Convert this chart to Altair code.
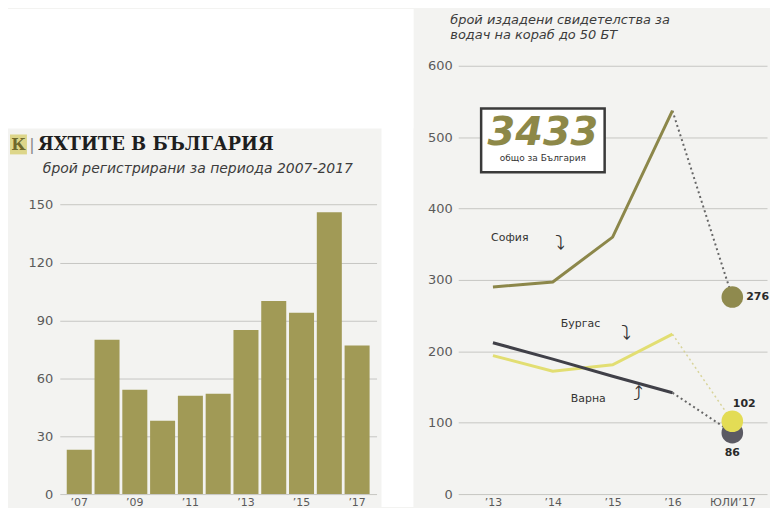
import altair as alt
import pandas as pd

# ---------------- data ----------------
# left panel: yachts registered per year
yacht_years = ["’07", "’08", "’09", "’10", "’11", "’12", "’13", "’14", "’15", "’16", "’17"]
yacht_counts = [23, 80, 54, 38, 51, 52, 85, 100, 94, 146, 77]
yacht_label_years = ["’07", "’09", "’11", "’13", "’15", "’17"]
yacht_ticks = [0, 30, 60, 90, 120, 150]

# right panel: skipper certificates issued
periods = ["’13", "’14", "’15", "’16", "ЮЛИ’17"]
cities = ["София", "Бургас", "Варна"]
sofia_vals = [290, 297, 360, 537]
burgas_vals = [194, 172, 181, 224]
varna_vals = [212, 189, 165, 142]
july17_vals = [276, 102, 86]
lic_ticks = [0, 100, 200, 300, 400, 500, 600]
total_count = "3433"

# ---------------- style ----------------
PANEL = "#f3f3f1"
OLIVE = "#a19a56"
SOFIA_C = "#8c874a"
BURGAS_C = "#e2de72"
VARNA_C = "#404048"
GRID = "#c6c6c3"
LABEL = "#5a5a5a"
FONT = "DejaVu Sans"
H = 487
LW = 318
RW = 310

one = pd.DataFrame({"k": [0]})


def txt(s, x, y, **kw):
    kw.setdefault("font", FONT)
    kw.setdefault("baseline", "middle")
    return alt.Chart(one).mark_text(text=s, **kw).encode(x=alt.value(x), y=alt.value(y))


def box(x, x2, y, y2, **kw):
    return alt.Chart(one).mark_rect(**kw).encode(
        x=alt.value(x), x2=alt.value(x2), y=alt.value(y), y2=alt.value(y2)
    )


# ---------------- left chart ----------------
df_y = pd.DataFrame({"year": yacht_years, "count": yacht_counts})
bars = alt.Chart(df_y).mark_bar(color=OLIVE).encode(
    x=alt.X(
        "year:N",
        sort=yacht_years,
        scale=alt.Scale(paddingInner=0.1, paddingOuter=0.25),
        axis=alt.Axis(title=None, values=yacht_label_years, labelAngle=0, labelFontSize=11,
                      labelPadding=2, ticks=False, domain=False, labelColor=LABEL, labelFont=FONT),
    ),
    y=alt.Y(
        "count:Q",
        scale=alt.Scale(domain=[0, 251.4], nice=False),
        axis=alt.Axis(title=None, values=yacht_ticks, labelFontSize=13, labelPadding=7, ticks=False,
                      domain=False, grid=True, gridColor=GRID, labelColor=LABEL, labelFont=FONT),
    ),
)

left = alt.layer(
    box(-52, 355, 0, 120, color="white"),
    box(323, 355, 0, 500, color="white"),
    bars,
    box(-50, -33, 126, 146, color="#ddd68a"),
    txt("К", -41.5, 137, fontSize=16, fontWeight="bold", font="DejaVu Serif", color="#6f692c"),
    txt("|", -28, 137, fontSize=16, color="#888888"),
    txt("ЯХТИТЕ В БЪЛГАРИЯ", -22, 137, fontSize=18, fontWeight="bold", font="DejaVu Serif",
        align="left", color="#1e1e1e"),
    txt("брой регистрирани за периода 2007-2017", -17, 161, fontSize=14, fontStyle="italic",
        align="left", color="#3c3c3c"),
).properties(width=LW, height=H)

# ---------------- right chart ----------------
X = alt.X(
    "period:N",
    scale=alt.Scale(type="point", domain=periods, padding=0.58),
    axis=alt.Axis(title=None, labelAngle=0, labelFontSize=11, labelPadding=2, ticks=False,
                  domain=False, labelColor=LABEL, labelFont=FONT),
)
Y = alt.Y(
    "value:Q",
    scale=alt.Scale(domain=[0, 679.5], nice=False),
    axis=alt.Axis(title=None, values=lic_ticks, labelFontSize=13, labelPadding=6, ticks=False,
                  domain=False, grid=True, gridColor=GRID, labelColor=LABEL, labelFont=FONT),
)


def solid(vals, color):
    df = pd.DataFrame({"period": periods[:4], "value": vals})
    return alt.Chart(df).mark_line(color=color, strokeWidth=3).encode(x=X, y=Y)


def dotted(v_from, v_to, color, width):
    df = pd.DataFrame({"period": periods[3:], "value": [v_from, v_to]})
    return alt.Chart(df).mark_line(color=color, strokeWidth=width, strokeDash=[2, 3]).encode(x=X, y=Y)


def dot(v, color):
    df = pd.DataFrame({"period": [periods[4]], "value": [v]})
    return alt.Chart(df).mark_circle(color=color, size=470, opacity=1).encode(x=X, y=Y)


def vlabel(v, dx, dy, align):
    df = pd.DataFrame({"period": [periods[4]], "value": [v], "t": [str(v)]})
    return alt.Chart(df).mark_text(fontSize=11, fontWeight="bold", font=FONT, color="#2a2a2a",
                                   dx=dx, dy=dy, align=align, baseline="middle").encode(
        x=X, y=Y, text="t:N")


right = alt.layer(
    dotted(sofia_vals[-1], july17_vals[0], "#666666", 2),
    dotted(burgas_vals[-1], july17_vals[1], "#d8d49a", 1.5),
    dotted(varna_vals[-1], july17_vals[2], "#666666", 2),
    solid(sofia_vals, SOFIA_C),
    solid(burgas_vals, BURGAS_C),
    solid(varna_vals, VARNA_C),
    dot(july17_vals[0], "#8f8a4e"),
    dot(july17_vals[2], "#5b5a63"),
    dot(july17_vals[1], "#e3dc55"),
    vlabel(july17_vals[0], 14, 0, "left"),
    vlabel(july17_vals[1], 12, -17, "center"),
    vlabel(july17_vals[2], 0, 20, "center"),
    txt("брой издадени свидетелства за", -8, 11, fontSize=13, fontStyle="italic", align="left",
        color="#3c3c3c"),
    txt("водач на кораб до 50 БТ", -8, 26, fontSize=13, fontStyle="italic", align="left",
        color="#3c3c3c"),
    box(23, 147, 100, 164, fill="white", stroke="#3a3a3a", strokeWidth=2.5),
    txt(total_count, 85, 125, fontSize=40, fontWeight="bold", fontStyle="italic", color="#8d8848"),
    txt("общо за България", 85, 150, fontSize=9, color="#333333"),
    txt("София", 33, 230, fontSize=11, align="left", color="#333333"),
    txt("⤵", 102, 236, fontSize=20, color="#333333"),
    txt("Бургас", 103, 316, fontSize=11, align="left", color="#333333"),
    txt("⤵", 168, 326, fontSize=20, color="#333333"),
    txt("Варна", 113, 392, fontSize=11, align="left", color="#333333"),
    txt("⤴", 180, 387, fontSize=20, color="#333333"),
).properties(width=RW, height=H)

chart = alt.hconcat(left, right, spacing=14).properties(
    padding=0, background=PANEL
).configure_view(stroke=None)

chart.save("out.html", embed_options={"renderer": "svg", "actions": False})
